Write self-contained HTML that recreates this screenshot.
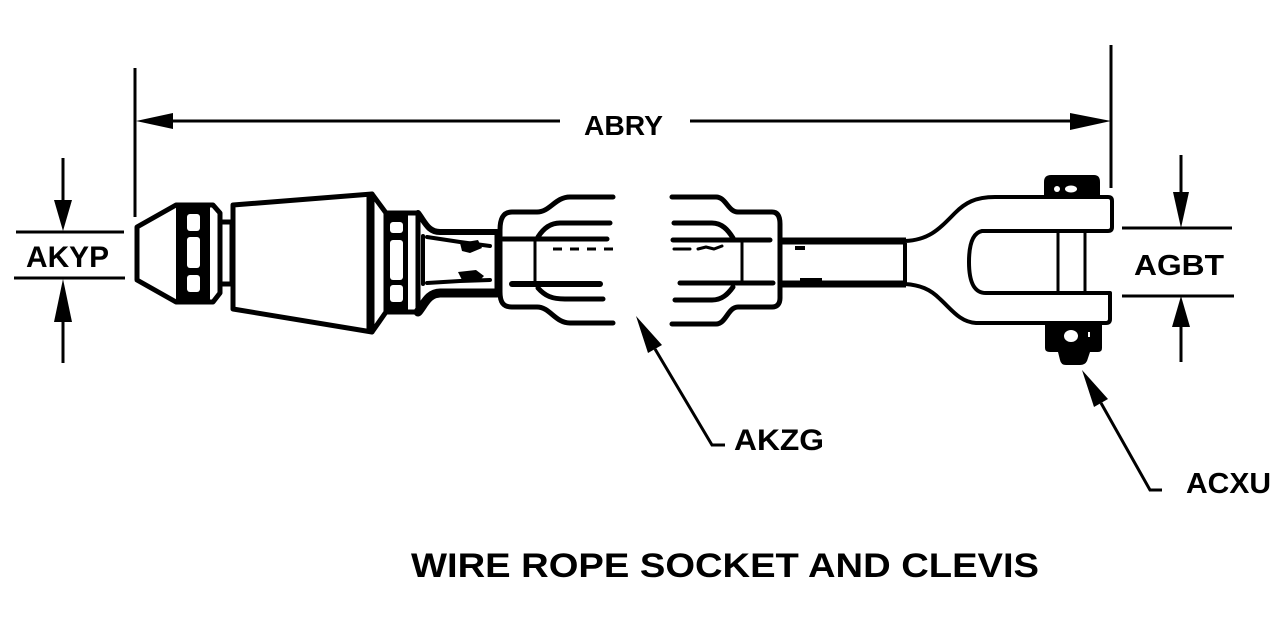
<!DOCTYPE html>
<html>
<head>
<meta charset="utf-8">
<style>
html,body{margin:0;padding:0;background:#fff;}
svg{display:block;}
text{font-family:"Liberation Sans",Arial,sans-serif;font-weight:bold;fill:#000;}
</style>
</head>
<body>
<svg width="1284" height="632" viewBox="0 0 1284 632" xmlns="http://www.w3.org/2000/svg">
<rect width="1284" height="632" fill="#fff"/>

<!-- ===== Dimension ABRY ===== -->
<g stroke="#000" stroke-width="3" fill="none">
  <line x1="135" y1="68" x2="135" y2="217"/>
  <line x1="1111" y1="45" x2="1111" y2="188"/>
  <line x1="170" y1="121" x2="560" y2="121"/>
  <line x1="690" y1="121" x2="1072" y2="121"/>
</g>
<polygon points="136,121 173,113 173,129" fill="#000"/>
<polygon points="1111,121 1070,113 1070,130" fill="#000"/>
<text x="584" y="135" font-size="28" textLength="79" lengthAdjust="spacingAndGlyphs">ABRY</text>

<!-- ===== Dimension AKYP ===== -->
<g stroke="#000" stroke-width="3" fill="none">
  <line x1="63" y1="158" x2="63" y2="202"/>
  <line x1="16" y1="232" x2="124" y2="232"/>
  <line x1="14" y1="278" x2="125" y2="278"/>
  <line x1="63" y1="320" x2="63" y2="363"/>
</g>
<polygon points="63,231 54,200 72,200" fill="#000"/>
<polygon points="63,279 54,322 72,322" fill="#000"/>
<text x="26" y="267" font-size="30" textLength="83" lengthAdjust="spacingAndGlyphs">AKYP</text>

<!-- ===== Dimension AGBT ===== -->
<g stroke="#000" stroke-width="3" fill="none">
  <line x1="1181" y1="155" x2="1181" y2="194"/>
  <line x1="1122" y1="228" x2="1232" y2="228"/>
  <line x1="1122" y1="296" x2="1234" y2="296"/>
  <line x1="1181" y1="325" x2="1181" y2="362"/>
</g>
<polygon points="1181,228 1173,192 1189,192" fill="#000"/>
<polygon points="1181,296 1172,327 1190,327" fill="#000"/>
<text x="1134" y="275" font-size="29" textLength="90" lengthAdjust="spacingAndGlyphs">AGBT</text>

<!-- ===== Leader AKZG ===== -->
<polyline points="655,349 712,445 725,445" stroke="#000" stroke-width="3" fill="none"/>
<polygon points="636,316 662,345 648,353" fill="#000"/>
<text x="734" y="450" font-size="30" textLength="90" lengthAdjust="spacingAndGlyphs">AKZG</text>

<!-- ===== Leader ACXU ===== -->
<polyline points="1101,403 1150,490 1162,490" stroke="#000" stroke-width="3" fill="none"/>
<polygon points="1082,370 1108,399 1094,407" fill="#000"/>
<text x="1186" y="493" font-size="29" textLength="85" lengthAdjust="spacingAndGlyphs">ACXU</text>

<!-- ===== Title ===== -->
<text x="411" y="577" font-size="34" textLength="628" lengthAdjust="spacingAndGlyphs">WIRE ROPE SOCKET AND CLEVIS</text>

<!-- ===== Wire rope socket (left) ===== -->
<g stroke="#000" stroke-linejoin="round" stroke-linecap="round">
  <!-- nose -->
  <polygon points="137,227 176,205 213,205 220,213 220,293 213,302 176,302 137,280" fill="#fff" stroke-width="5"/>
  <rect x="176" y="205" width="34" height="97" fill="#000" stroke="none"/>
  <!-- collar -->
  <rect x="220" y="222" width="12" height="62" fill="#fff" stroke-width="5"/>
  <!-- big body -->
  <polygon points="233,205 372,194 372,332 233,309" fill="#fff" stroke-width="5"/>
  <line x1="368" y1="197" x2="368" y2="329" stroke-width="3"/>
  <!-- chamfer + right nut -->
  <polygon points="372,194 386,213 386,312 372,332" fill="#fff" stroke-width="5"/>
  <rect x="386" y="213" width="32" height="99" fill="#fff" stroke-width="5"/>
  <rect x="386" y="213" width="22" height="99" fill="#000" stroke="none"/>
  <!-- neck -->
  <path d="M418,213 C425,222 428,232 440,232 L497,232 L497,295 L440,295 C428,295 424,305 418,312 Z" fill="#fff" stroke-width="5"/>
  <path d="M418,213 C425,222 428,232 440,232 L497,232" fill="none" stroke-width="6"/>
  <path d="M418,312 C424,305 428,293 440,293 L497,293" fill="none" stroke-width="9"/>
  <line x1="423" y1="236" x2="423" y2="284" stroke-width="4"/>
  <path d="M427,237 L460,242 L490,246" fill="none" stroke-width="4"/>
  <path d="M427,283 L460,281 L490,280" fill="none" stroke-width="4"/>
</g>
<!-- nut windows -->
<g fill="#fff">
  <rect x="187" y="214" width="13" height="17" rx="3"/>
  <rect x="187" y="237" width="13" height="31" rx="3"/>
  <rect x="187" y="275" width="13" height="17" rx="3"/>
  <rect x="211" y="214" width="4" height="78"/>
  <rect x="390" y="222" width="13" height="11" rx="3"/>
  <rect x="390" y="240" width="13" height="40" rx="3"/>
  <rect x="390" y="285" width="13" height="17" rx="3"/>
</g>
<!-- broken wire scribbles -->
<g fill="#000">
  <polygon points="460,243 478,240 482,248 470,253 462,251"/>
  <polygon points="458,272 476,270 484,276 478,282 462,280"/>
</g>

<!-- ===== Left socket half ===== -->
<g stroke="#000" fill="none" stroke-linecap="round" stroke-linejoin="round">
  <path d="M613,197 L570,197 C555,197 550,212 537,212 L512,212 C503,212 500,219 500,230 L500,292 C500,302 503,307 512,307 L537,307 C550,307 555,323 570,323 L613,323" stroke-width="5"/>
  <path d="M610,223 L560,223 C550,223 543,229 538,237" stroke-width="5"/>
  <line x1="503" y1="239" x2="607" y2="239" stroke-width="5"/>
  <line x1="553" y1="249" x2="613" y2="249" stroke-width="3" stroke-dasharray="9,8" stroke-linecap="butt"/>
  <line x1="535" y1="240" x2="535" y2="282" stroke-width="3"/>
  <line x1="512" y1="284" x2="600" y2="284" stroke-width="6"/>
  <path d="M538,288 C545,296 552,299 565,299 L603,299" stroke-width="5"/>
</g>

<!-- ===== Right socket half ===== -->
<g stroke="#000" fill="none" stroke-linecap="round" stroke-linejoin="round">
  <path d="M672,197 L716,197 C726,197 728,212 738,212 L772,212 C778,212 780,217 780,224 L780,298 C780,304 777,307 772,307 L738,307 C728,307 726,324 716,324 L672,324" stroke-width="5"/>
  <path d="M674,223 L712,223 C722,223 728,230 733,238" stroke-width="5"/>
  <line x1="673" y1="240" x2="770" y2="240" stroke-width="5"/>
  <path d="M674,249 L690,249 M698,249 L706,247 L714,249 L722,246" stroke-width="3"/>
  <line x1="742" y1="241" x2="742" y2="281" stroke-width="3"/>
  <line x1="680" y1="283" x2="773" y2="283" stroke-width="5"/>
  <path d="M675,300 L712,300 C722,300 728,294 733,287" stroke-width="5"/>
</g>

<!-- ===== Rope to clevis ===== -->
<g stroke="#000" stroke-width="7" fill="none">
  <line x1="782" y1="241" x2="906" y2="241"/>
  <line x1="782" y1="284" x2="906" y2="284"/>
</g>
<g fill="#000">
  <rect x="795" y="246" width="10" height="4"/>
  <rect x="800" y="278" width="22" height="3"/>
</g>

<!-- ===== Clevis ===== -->
<!-- pin head top -->
<path d="M1044,198 L1044,182 Q1044,175 1051,175 L1094,175 Q1100,175 1100,182 L1100,198 Z" fill="#000"/>
<ellipse cx="1057" cy="189" rx="3" ry="3" fill="#fff"/>
<ellipse cx="1071" cy="189" rx="6" ry="3.5" fill="#fff"/>
<!-- nut bottom -->
<path d="M1045,321 L1102,321 L1102,348 Q1102,352 1098,352 L1090,352 L1087,361 Q1085,365 1080,365 L1066,365 Q1061,365 1060,360 L1058,352 L1050,352 Q1045,352 1045,348 Z" fill="#000"/>
<ellipse cx="1071" cy="336" rx="7" ry="6" fill="#fff"/>
<rect x="1088" y="332" width="2" height="5" fill="#fff"/>
<!-- body -->
<path d="M905,241 C930,240 940,228 955,213 C965,203 975,197 995,197 L1108,197 Q1112,197 1112,201 L1112,227 Q1112,231 1108,231 L982,231 C972,233 969,246 969,262 C969,282 974,293 986,293 L1110,293 L1110,319 Q1110,323 1106,323 L976,323 C960,322 952,310 940,299 C930,289 920,285 905,284 Z" fill="#fff" stroke="#000" stroke-width="4" stroke-linejoin="round"/>
<g stroke="#000" stroke-width="3">
  <line x1="1058" y1="231" x2="1058" y2="293"/>
  <line x1="1085" y1="231" x2="1085" y2="293"/>
</g>
</svg>
</body>
</html>
